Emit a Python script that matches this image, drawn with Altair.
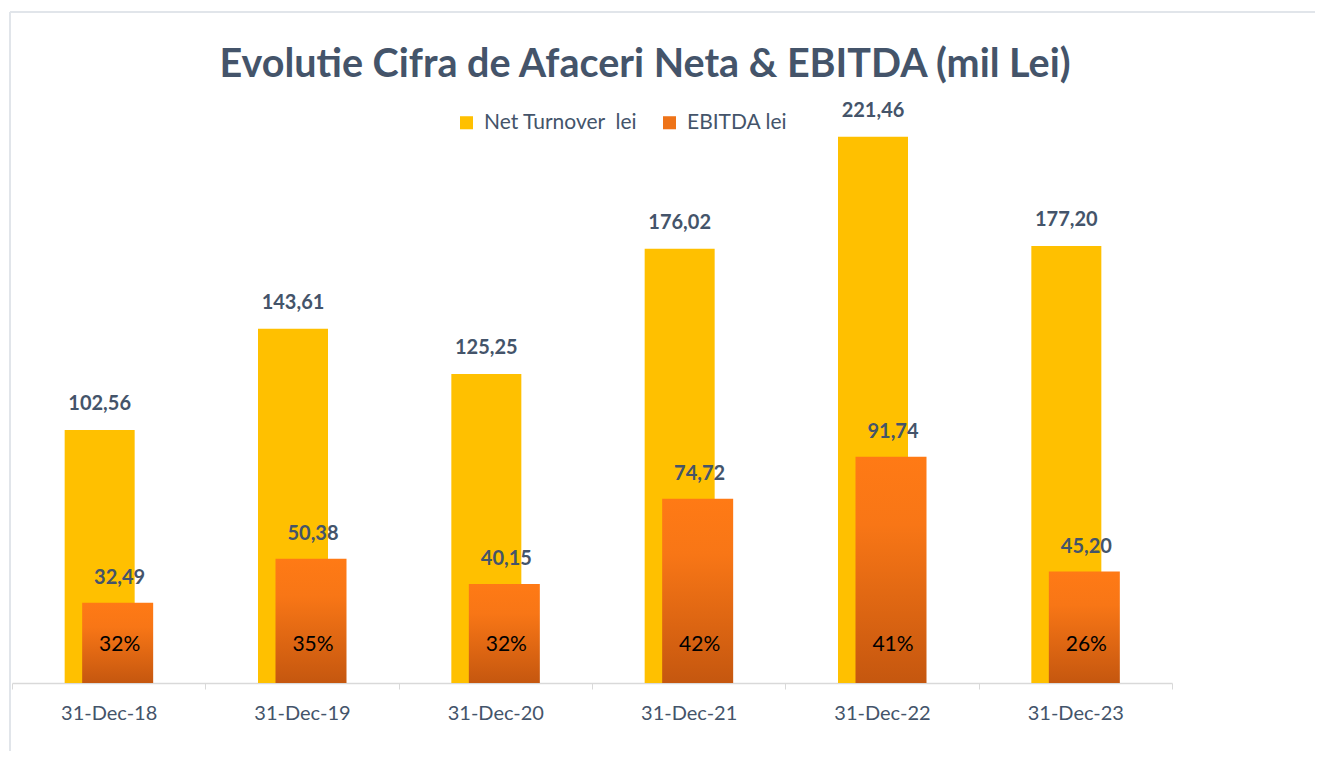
import altair as alt
import pandas as pd

dates = ["31-Dec-18", "31-Dec-19", "31-Dec-20", "31-Dec-21", "31-Dec-22", "31-Dec-23"]
turnover = [102.56, 143.61, 125.25, 176.02, 221.46, 177.20]
ebitda = [32.49, 50.38, 40.15, 74.72, 91.74, 45.20]

TITLE = "Evolutie Cifra de Afaceri Neta & EBITDA (mil Lei)"
LEG_T = "Net Turnover\u00a0\u00a0lei"
LEG_E = "EBITDA lei"

df = pd.DataFrame({
    "date": dates,
    "turnover": turnover,
    "ebitda": ebitda,
})
df["t_lbl"] = [f"{v:.2f}".replace(".", ",") for v in turnover]
df["e_lbl"] = [f"{v:.2f}".replace(".", ",") for v in ebitda]
df["pct"] = [f"{round(e / t * 100)}%" for e, t in zip(ebitda, turnover)]
df["zero"] = 0

FONT = "Lato"
TXT = "#44546A"
W, H = 1160, 592

x = alt.X("date:N", sort=dates, title=None,
          scale=alt.Scale(paddingInner=0, paddingOuter=0),
          axis=alt.Axis(labelAngle=0, labelFontSize=20, labelColor=TXT, labelFont=FONT,
                        domainColor="#D9D9D9", tickColor="#D9D9D9", tickSize=6,
                        tickBand="extent", labelPadding=14, domainWidth=1.5))
yscale = alt.Scale(domain=[0, 240], nice=False)
y_t = alt.Y("turnover:Q", scale=yscale, axis=None)
y_e = alt.Y("ebitda:Q", scale=yscale, axis=None)

base = alt.Chart(df)
one = alt.Data(values=[{"a": 1}])

frame_top = alt.Chart(one).mark_rule(color="#E1E5EA", strokeWidth=2).encode(
    x=alt.value(-2), x2=alt.value(1303), y=alt.value(-79))
frame_left = alt.Chart(one).mark_rule(color="#E1E5EA", strokeWidth=2).encode(
    x=alt.value(-2), y=alt.value(-79), y2=alt.value(680))
title = alt.Chart(one).mark_text(fontSize=39.5, fontWeight="bold", font=FONT, color=TXT,
                                 align="center", baseline="middle").encode(
    x=alt.value(633), y=alt.value(-26), text=alt.value(TITLE))

t_bars = base.mark_bar(width=70, xOffset=-9).encode(
    x=x, y=y_t,
    color=alt.Color("leg:N", scale=alt.Scale(domain=[LEG_T, LEG_E], range=["#FFC000", "#EE7318"]),
                    legend=alt.Legend(title=None, orient="none", legendX=444, legendY=21,
                                      direction="horizontal", symbolType="square", symbolSize=170,
                                      symbolStrokeWidth=0, labelFontSize=21, labelColor=TXT,
                                      labelFont=FONT, columnPadding=21, labelOffset=7,
                                      labelLimit=300))
).transform_calculate(leg=f"'{LEG_T}'")

grad = alt.LinearGradient(
    gradient="linear",
    stops=[alt.GradientStop(color="#FF7A15", offset=0),
           alt.GradientStop(color="#F87616", offset=0.3),
           alt.GradientStop(color="#C5570F", offset=1)],
    x1=0, x2=0, y1=0, y2=1)
e_bars = base.mark_bar(width=71, xOffset=9, color=grad).encode(x=x, y=y_e)

t_lbl = base.mark_text(xOffset=-9, dy=-26, fontSize=20, fontWeight="bold", color=TXT, font=FONT).encode(
    x=x, y=y_t, text="t_lbl:N")
e_lbl = base.mark_text(xOffset=11, dy=-25, fontSize=20, fontWeight="bold", color=TXT, font=FONT).encode(
    x=x, y=y_e, text="e_lbl:N")
p_lbl = base.mark_text(xOffset=11, dy=-38, fontSize=21, color="#000000", font=FONT).encode(
    x=x, y=alt.Y("zero:Q", scale=yscale, axis=None), text="pct:N")

chart = alt.layer(frame_top, frame_left, title, t_bars, e_bars, t_lbl, e_lbl, p_lbl).properties(
    width=W, height=H,
    background="white",
    autosize=alt.AutoSizeParams(type="none"),
    padding={"left": 4, "top": 83, "right": 147, "bottom": 68},
).configure_view(strokeWidth=0, stroke="transparent")

chart.save("out.html", embed_options={"renderer": "svg", "actions": False})
